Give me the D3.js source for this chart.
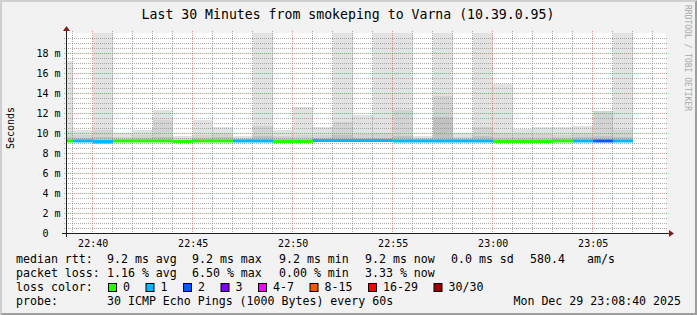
<!DOCTYPE html>
<html>
<head>
<meta charset="utf-8">
<script src="https://cdn.jsdelivr.net/npm/d3@7"></script>
<style>
  body { margin: 0; background: #f2f2f2; }
  svg { display: block; }
  text { font-family: "DejaVu Sans Mono", monospace; fill: #000; }
</style>
</head>
<body>
<div id="chart"></div>
<script>
// one value per minute, the time is the end of the 60s step
var minutes = ["22:39", "22:40", "22:41", "22:42", "22:43", "22:44", "22:45", "22:46", "22:47", "22:48",
               "22:49", "22:50", "22:51", "22:52", "22:53", "22:54", "22:55", "22:56", "22:57", "22:58",
               "22:59", "23:00", "23:01", "23:02", "23:03", "23:04", "23:05", "23:06", "23:07"];
// median rtt (ms)
var median = [9.25, 9.25, 9.2, 9.25, 9.25, 9.25, 9.2, 9.25, 9.25, 9.25,
              9.25, 9.2, 9.2, 9.3, 9.3, 9.3, 9.3, 9.25, 9.25, 9.25,
              9.25, 9.25, 9.2, 9.2, 9.2, 9.25, 9.25, 9.25, 9.25];
// lost pings out of 30
var loss = [0, 1, 1, 0, 0, 0, 0, 0, 0, 1,
            1, 0, 0, 1, 1, 1, 1, 1, 1, 1,
            1, 1, 0, 0, 0, 0, 1, 2, 1];
// smoke: lowest ping, inner band top, middle band top, highest ping (ms)
var pingMin = [9.15, 9.1, 8.9, 9.15, 9.15, 9.1, 9.1, 9.15, 9.15, 9.15,
               9.15, 9.1, 9.1, 9.15, 9.15, 9.15, 9.15, 9.15, 9.15, 9.15,
               9.15, 9.15, 9.1, 9.1, 9.1, 9.1, 9.15, 9.1, 9.15];
var pingInner = [9.6, 9.5, 9.6, 9.4, 9.5, 9.6, 9.35, 9.5, 9.6, 9.4,
                 9.7, 9.5, 9.5, 9.5, 9.8, 9.5, 9.5, 9.7, 9.4, 11.6,
                 9.4, 9.7, 9.5, 9.5, 9.5, 9.5, 9.6, 9.7, 9.6];
var pingMid = [10.2, 9.8, 10.3, 9.6, 9.8, 11.3, 9.5, 9.8, 10.0, 9.5,
               10.7, 9.7, 9.8, 9.8, 11.1, 9.9, 10.0, 12.3, 9.5, 13.7,
               9.6, 10.6, 10.0, 9.9, 9.9, 9.8, 10.0, 12.2, 10.3];
var pingMax = [17.2, 10.3, 24.0, 10.0, 10.3, 12.3, 9.7, 11.3, 10.6, 9.7,
               24.0, 10.3, 12.6, 10.6, 24.0, 11.8, 24.0, 24.0, 9.7, 24.0,
               10.0, 24.0, 14.9, 10.4, 10.6, 10.6, 10.7, 12.2, 24.0];

var yTicks = [0, 2, 4, 6, 8, 10, 12, 14, 16, 18];
var lossClasses = ["0", "1", "2", "3", "4-7", "8-15", "16-29", "30/30"];
var lossUpper = [0, 1, 2, 3, 7, 15, 29, 30];
var lossColors = ["#26ff00", "#00b8ff", "#0059ff", "#7e00ff", "#ff00ff", "#ff5500", "#ff0000", "#a10000"];
var rttStats = ["9.2 ms avg", "9.2 ms max", "9.2 ms min", "9.2 ms now", "0.0 ms sd", "580.4", "am/s"];
var lossStats = ["1.16 % avg", "6.50 % max", "0.00 % min", "3.33 % now"];

var title = "Last 30 Minutes from smokeping to Varna (10.39.0.95)";
var probeText = "30 ICMP Echo Pings (1000 Bytes) every 60s";
var stamp = "Mon Dec 29 23:08:40 2025";

var width = 697, height = 315;
var plotL = 66, plotR = 666, plotT = 33, plotB = 233;
var gridCol = "rgba(143,143,143,0.75)", mgridCol = "rgba(222,79,79,0.6)";

var parseT = function(s) {
    var p = s.split(":");
    return new Date(2025, 11, 29, +p[0], +p[1], 0);
};
var tStart = new Date(2025, 11, 29, 22, 38, 40);
var tEnd = new Date(2025, 11, 29, 23, 8, 40);

var x = d3.scaleTime().domain([tStart, tEnd]).range([plotL, plotR]);
var y = d3.scaleLinear().domain([0, 20]).range([plotB, plotT]);

var svg = d3.select("#chart").append("svg")
    .attr("width", width)
    .attr("height", height);

// background and shaded frame
svg.append("rect").attr("width", width).attr("height", height).attr("fill", "#f2f2f2");
svg.append("path").attr("fill", "#cfcfcf")
    .attr("d", "M0,0H" + width + "L" + (width - 2) + ",2H2V" + (height - 2) + "L0," + height + "Z");
svg.append("path").attr("fill", "#9e9e9e")
    .attr("d", "M" + width + ",0V" + height + "H0L2," + (height - 2) + "H" + (width - 2) + "V2Z");

// canvas
svg.append("rect")
    .attr("x", plotL).attr("y", plotT)
    .attr("width", plotR - plotL).attr("height", plotB - plotT)
    .attr("fill", "#fff");

svg.append("clipPath").attr("id", "plot")
    .append("rect").attr("x", plotL + 1).attr("y", plotT)
    .attr("width", plotR - plotL - 1).attr("height", plotB - plotT);

var steps = minutes.map(function(m, i) {
    var te = parseT(m);
    var ts = new Date(te.getTime() - 60000);
    if (ts < tStart) ts = tStart;
    return {
        x0: Math.round(x(ts)), x1: Math.round(x(te)),
        median: median[i], loss: loss[i],
        min: pingMin[i], inner: pingInner[i], mid: pingMid[i], max: pingMax[i]
    };
});

// smoke
var smoke = svg.append("g").attr("clip-path", "url(#plot)").attr("shape-rendering", "crispEdges");
var bands = [
    {lo: "min", hi: "max", color: "#e2e2e2"},
    {lo: "min", hi: "mid", color: "#d3d3d3"},
    {lo: "min", hi: "inner", color: "#c2c2c2"}
];
bands.forEach(function(b) {
    smoke.selectAll(null).data(steps).enter().append("rect")
        .attr("x", function(d) { return d.x0; })
        .attr("width", function(d) { return d.x1 - d.x0; })
        .attr("y", function(d) { return Math.round(y(d[b.hi])); })
        .attr("height", function(d) { return Math.round(y(d[b.lo])) - Math.round(y(d[b.hi])); })
        .attr("fill", b.color);
});

// grid
var grid = svg.append("g").attr("stroke-width", 1).attr("stroke-dasharray", "1,1");
var yMinor = y.ticks(40).filter(function(v) { return v > 0 && v < 20 && yTicks.indexOf(v) < 0; });
var yMajor = yTicks.filter(function(v) { return v > 0; });
var xMinor = x.ticks(d3.timeMinute.every(1)).filter(function(t) { return t.getMinutes() % 5 !== 0; });
var xMajor = x.ticks(d3.timeMinute.every(5));

function hLines(vals, col) {
    grid.selectAll(null).data(vals).enter().append("line")
        .attr("x1", plotL - 2).attr("x2", plotR + 2)
        .attr("y1", function(v) { return Math.round(y(v)) + 0.5; })
        .attr("y2", function(v) { return Math.round(y(v)) + 0.5; })
        .attr("stroke", col);
}
function vLines(vals, col) {
    grid.selectAll(null).data(vals).enter().append("line")
        .attr("y1", plotT - 2).attr("y2", plotB + 2)
        .attr("x1", function(t) { return Math.floor(x(t)) + 0.5; })
        .attr("x2", function(t) { return Math.floor(x(t)) + 0.5; })
        .attr("stroke", col);
}
hLines(yMinor, gridCol);
vLines(xMinor, gridCol);
hLines(yMajor, mgridCol);
vLines(xMajor, mgridCol);

// median line coloured by loss
var lossIndex = function(l) {
    for (var k = 0; k < lossUpper.length; k++) if (l <= lossUpper[k]) return k;
    return lossUpper.length - 1;
};
var medG = svg.append("g").attr("clip-path", "url(#plot)");
medG.selectAll("line").data(steps).enter().append("line")
    .attr("x1", function(d) { return d.x0; })
    .attr("x2", function(d) { return d.x1; })
    .attr("y1", function(d) { return y(d.median) + 0.5; })
    .attr("y2", function(d) { return y(d.median) + 0.5; })
    .attr("stroke", function(d) { return lossColors[lossIndex(d.loss)]; })
    .attr("stroke-width", 3);

// axes lines + arrows
svg.append("line").attr("x1", plotL - 4).attr("x2", plotR + 4)
    .attr("y1", plotB + 0.5).attr("y2", plotB + 0.5)
    .attr("stroke", "#1f1f1f");
svg.append("line").attr("x1", plotL + 0.5).attr("x2", plotL + 0.5)
    .attr("y1", plotB + 4).attr("y2", plotT - 3)
    .attr("stroke", "#1f1f1f");
svg.append("path").attr("fill", "#801f1f")
    .attr("d", "M" + (plotR + 3) + "," + (plotB - 3) + "L" + (plotR + 3) + "," + (plotB + 4) +
               "L" + (plotR + 8) + "," + (plotB + 0.5) + "Z");
svg.append("path").attr("fill", "#801f1f")
    .attr("d", "M" + (plotL - 3) + "," + (plotT - 2) + "L" + (plotL + 4) + "," + (plotT - 2) +
               "L" + (plotL + 0.5) + "," + (plotT - 7) + "Z");

// tick labels
var xAxis = svg.append("g")
    .attr("transform", "translate(0," + plotB + ")")
    .call(d3.axisBottom(x).ticks(d3.timeMinute.every(5))
        .tickFormat(d3.timeFormat("%H:%M")).tickSize(0).tickPadding(6.5));
var yAxis = svg.append("g")
    .attr("transform", "translate(" + plotL + ",0)")
    .call(d3.axisLeft(y).tickValues(yTicks)
        .tickFormat(function(v) { return v === 0 ? "0\u00a0\u00a0" : v + " m"; })
        .tickSize(0).tickPadding(5.5));
[xAxis, yAxis].forEach(function(g) {
    g.select(".domain").remove();
    g.attr("font-family", null).attr("font-size", null);
    g.selectAll("text").style("font-size", "10px").attr("fill", "#000");
});
yAxis.selectAll("text").attr("dy", "0.36em");

svg.append("text")
    .attr("transform", "translate(14,128) rotate(-90)")
    .attr("text-anchor", "middle")
    .style("font-size", "10px")
    .text("Seconds");

svg.append("text")
    .attr("x", 348).attr("y", 18.7)
    .attr("text-anchor", "middle")
    .style("font-size", "13.2px")
    .text(title);

svg.append("text")
    .attr("transform", "translate(684.5,5) rotate(90)")
    .style("font-size", "8px")
    .style("fill", "#a8a8a8")
    .text("RRDTOOL / TOBI OETIKER");

// legend
var lg = svg.append("g").style("font-size", "11.6px").attr("xml:space", "preserve");
var cols = [107, 192, 279, 365, 451, 530, 587];
var rows = [263, 277, 291, 305];

lg.append("text").attr("x", 16).attr("y", rows[0]).text("median rtt:");
lg.selectAll(null).data(rttStats).enter().append("text")
    .attr("x", function(d, i) { return cols[i]; }).attr("y", rows[0]).text(function(d) { return d; });

lg.append("text").attr("x", 16).attr("y", rows[1]).text("packet loss:");
lg.selectAll(null).data(lossStats).enter().append("text")
    .attr("x", function(d, i) { return cols[i]; }).attr("y", rows[1]).text(function(d) { return d; });

lg.append("text").attr("x", 16).attr("y", rows[2]).text("loss color:");
var bx = 108;
lossClasses.forEach(function(c, i) {
    lg.append("rect").attr("x", bx + 0.5).attr("y", 283.5).attr("width", 8).attr("height", 8)
        .attr("fill", lossColors[i]).attr("stroke", "#000");
    lg.append("text").attr("x", bx + 15).attr("y", rows[2]).text(c);
    bx = bx + 15 + c.length * 7 + 15.5;
});

lg.append("text").attr("x", 16).attr("y", rows[3]).text("probe:");
lg.append("text").attr("x", 107).attr("y", rows[3]).text(probeText);
lg.append("text").attr("x", 681).attr("y", rows[3]).attr("text-anchor", "end").text(stamp);
</script>
</body>
</html>
